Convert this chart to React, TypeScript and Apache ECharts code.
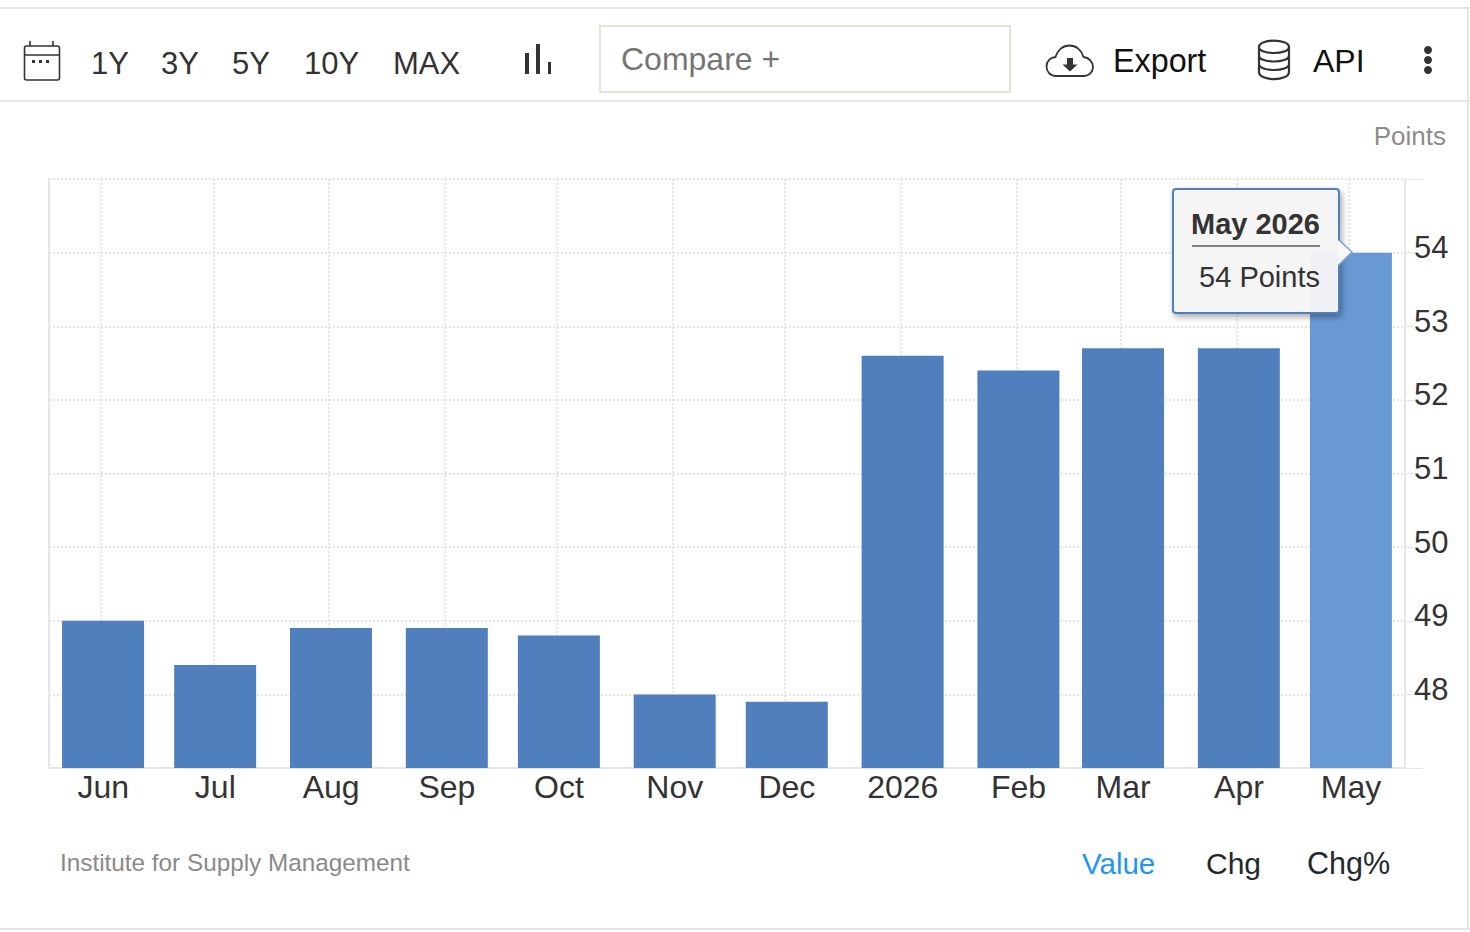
import React, { useEffect, useRef } from "react";
import * as echarts from "echarts";

const months = ["2025-06-01", "2025-07-01", "2025-08-01", "2025-09-01", "2025-10-01", "2025-11-01", "2025-12-01", "2026-01-01", "2026-02-01", "2026-03-01", "2026-04-01", "2026-05-01"];
const values = [49, 48.4, 48.9, 48.9, 48.8, 48, 47.9, 52.6, 52.4, 52.7, 52.7, 54];
const monthLabels = ["2026", "Feb", "Mar", "Apr", "May", "Jun", "Jul", "Aug", "Sep", "Oct", "Nov", "Dec"];
const rangeButtons = [["1Y", 91], ["3Y", 161], ["5Y", 232], ["10Y", 304], ["MAX", 393]] as const;

const FONT = "'Liberation Sans', Arial, sans-serif";
const INK = "#333333";
const FRAME = "#e6e6ea";
const BAR = "#4f7fbc";
const HILITE = "#6899d4";
const TIP = "#4f7fbc";

const CLOUD = "M1056 76 C1050 76 1046.5 71.5 1046.5 66.5 C1046.5 61 1050.5 57.5 1055.5 57 C1057.5 50 1063 45.5 1069.5 45.5 C1076 45.5 1081.5 50 1083.5 57 C1089 57.5 1093 62 1093 67 C1093 72 1089 76 1084 76 Z";
const CLOUD_ARROW = "M1067 58 L1073 58 L1073 64.5 L1077.5 64.5 L1070 71.5 L1062.5 64.5 L1067 64.5 Z";
const DB = "M1259 47 C1259 38.5 1289 38.5 1289 47 C1289 55 1259 55 1259 47 Z M1259 47 L1259 72 C1259 81.5 1289 81.5 1289 72 L1289 47 M1259 55.5 C1259 63.5 1289 63.5 1289 55.5 M1259 64 C1259 72 1289 72 1289 64";

const line = (x1: number, y1: number, x2: number, y2: number, stroke: string, lineWidth = 2, z = 1) => ({
  type: "line", z, shape: { x1, y1, x2, y2 }, style: { stroke, lineWidth },
});
const label = (text: string, x: number, y: number, fontSize: number, fill: string, align = "left", fontWeight = "normal", z = 1) => ({
  type: "text", z, x, y, style: { text, fontSize, fill, align, verticalAlign: "middle", fontFamily: FONT, fontWeight },
});
const solid = (x: number, y: number, width: number, height: number, fill: string) => ({
  type: "rect", z: 1, shape: { x, y, width, height }, style: { fill },
});
const dot = (cx: number, cy: number, r: number, fill: string) => ({
  type: "circle", z: 1, shape: { cx, cy, r }, style: { fill },
});

export default function App() {
  const ref = useRef<HTMLDivElement>(null);
  useEffect(() => {
    document.body.style.margin = "0";
    document.body.style.background = "#fff";
    echarts.graphic.registerShape("cloudIcon", echarts.graphic.extendPath(CLOUD, {}));
    echarts.graphic.registerShape("cloudArrow", echarts.graphic.extendPath(CLOUD_ARROW, {}));
    echarts.graphic.registerShape("dbIcon", echarts.graphic.extendPath(DB, {}));
    const chart = echarts.init(ref.current!, undefined, { renderer: "svg" });
    chart.setOption({
      animation: false,
      useUTC: true,
      backgroundColor: "#ffffff",
      grid: { left: 49, right: 65, top: 179, bottom: 164 },
      xAxis: {
        type: "time",
        // ECharts widens a time axis by half a bar each side, so these end up at about 18 May and 16 May.
        min: Date.UTC(2025, 4, 29),
        max: Date.UTC(2026, 4, 5),
        splitNumber: 12,
        axisLine: { show: true, lineStyle: { color: "#e6e6e6", width: 2 } },
        axisTick: { show: false },
        axisLabel: {
          margin: 3,
          hideOverlap: false,
          showMinLabel: false,
          showMaxLabel: false,
          formatter: (v: number) => {
            const d = new Date(v);
            return d.getUTCDate() === 1 ? `{m|${monthLabels[d.getUTCMonth()]}}` : "";
          },
          rich: { m: { fontSize: 32, color: INK, fontFamily: FONT, padding: [0, 0, 0, 4] } },
        },
        splitLine: { show: true, lineStyle: { color: "#e4e4e4", type: "dotted", width: 2 } },
      },
      yAxis: {
        type: "value",
        position: "right",
        min: 47,
        max: 55,
        interval: 1,
        axisLine: { show: true, lineStyle: { color: "#e6e6e6", width: 2 } },
        axisTick: { show: true, length: 18, lineStyle: { color: "#e6e6e6", width: 1 } },
        axisLabel: {
          margin: 9,
          backgroundColor: "#ffffff",
          formatter: (v: number) => (v === 47 || v === 55 ? "" : `{v|${v}}`),
          rich: { v: { fontSize: 31, color: INK, fontFamily: FONT, padding: [0, 0, 10, 0] } },
        },
        splitLine: { show: true, lineStyle: { color: "#e4e4e4", type: "dotted", width: 2 } },
      },
      series: [
        {
          type: "bar",
          barWidth: 82,
          data: months.map((m, i) => ({
            value: [`${m}T12:00:00Z`, values[i]],
            itemStyle: { color: i === months.length - 1 ? HILITE : BAR },
          })),
        },
      ],
      graphic: [
        line(0, 8, 1470, 8, FRAME),
        line(0, 101, 1470, 101, FRAME),
        line(0, 929, 1470, 929, FRAME),
        line(1468, 8, 1468, 929, FRAME),
        line(49, 178, 49, 768, "#e6e6e6"),
        { type: "rect", z: 1, shape: { x: 24.5, y: 46, width: 35, height: 34, r: 2 }, style: { fill: "none", stroke: INK, lineWidth: 1.6 } },
        line(25, 55, 59, 55, INK, 1.6),
        line(30, 41, 30, 46, INK, 1.6),
        line(53, 41, 53, 46, INK, 1.6),
        solid(32, 60, 3, 3, INK),
        solid(39, 60, 3, 3, INK),
        solid(46, 60, 3, 3, INK),
        ...rangeButtons.map(([t, x]) => label(t, x, 63, 31, INK)),
        solid(525, 53, 4, 21, INK),
        solid(536, 44, 4, 30, INK),
        solid(548, 62, 3, 12, INK),
        { type: "rect", z: 1, shape: { x: 600, y: 26, width: 410, height: 66 }, style: { fill: "#fff", stroke: "#e3e3da", lineWidth: 2 } },
        label("Compare +", 621, 59, 32, "#757575"),
        { type: "cloudIcon", z: 1, style: { fill: "none", stroke: INK, lineWidth: 1.8 } },
        { type: "cloudArrow", z: 1, style: { fill: INK } },
        label("Export", 1113, 61, 32.3, "#111111"),
        { type: "dbIcon", z: 1, style: { fill: "none", stroke: INK, lineWidth: 2.2 } },
        label("API", 1313, 61, 32, "#111111"),
        dot(1428, 50, 4, INK),
        dot(1428, 60, 4, INK),
        dot(1428, 70, 4, INK),
        label("Points", 1446, 136, 26, "#8c8c8c", "right"),
        label("Institute for Supply Management", 60, 862, 24.3, "#8a8a8a"),
        label("Value", 1082, 863, 29.5, "#1e96f5"),
        label("Chg", 1206, 863, 30, "#23282d"),
        label("Chg%", 1307, 863, 30.5, "#23282d"),
        {
          type: "rect", z: 100,
          shape: { x: 1173, y: 189, width: 166, height: 124, r: 3 },
          style: { fill: "rgba(247,247,247,0.95)", stroke: TIP, lineWidth: 2, shadowBlur: 6, shadowOffsetX: 2, shadowOffsetY: 3, shadowColor: "rgba(0,0,0,0.35)" },
        },
        { type: "polygon", z: 101, shape: { points: [[1338, 240], [1352, 252], [1338, 265]] }, style: { fill: "#f7f7f7" } },
        { type: "polyline", z: 102, shape: { points: [[1339, 240], [1352, 252], [1339, 265]] }, style: { fill: "none", stroke: "#7ea3d2", lineWidth: 1.5 } },
        label("May 2026", 1320, 224, 29, INK, "right", "bold", 103),
        line(1192, 246, 1320, 246, "#808080", 2, 103),
        label("54 Points", 1320, 277, 29, INK, "right", "normal", 103),
      ],
    });
    return () => chart.dispose();
  }, []);
  return <div ref={ref} style={{ width: 1470, height: 932 }} />;
}
